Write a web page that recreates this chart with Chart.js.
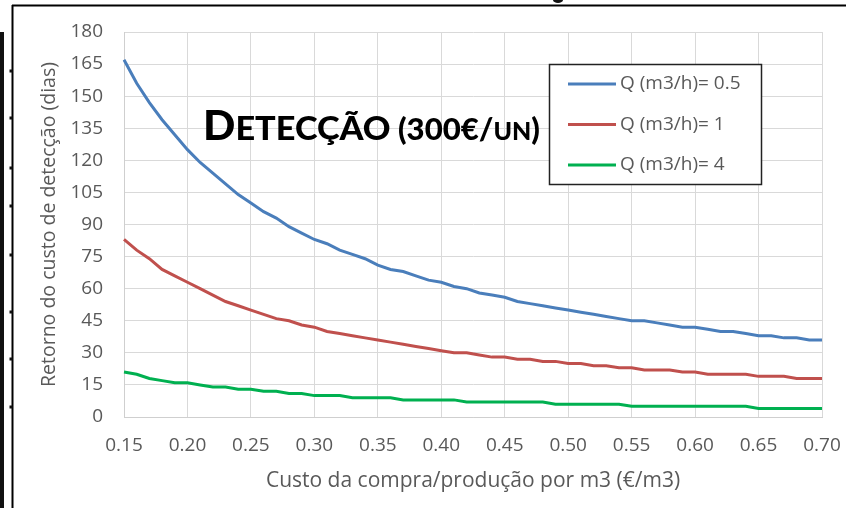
<!DOCTYPE html>
<html>
<head>
<meta charset="utf-8">
<script src="https://cdn.jsdelivr.net/npm/chart.js@4.4.1/dist/chart.umd.min.js"></script>
<style>
  html, body { margin: 0; padding: 0; background: #fff; }
  #wrap { width: 846px; height: 508px; position: relative; }
</style>
</head>
<body>
<div id="wrap"><canvas id="payback" width="846" height="508"></canvas></div>
<script>
// custo por m3 (€/m3)
const costs = [0.15, 0.16, 0.17, 0.18, 0.19, 0.20, 0.21, 0.22, 0.23, 0.24,
  0.25, 0.26, 0.27, 0.28, 0.29, 0.30, 0.31, 0.32, 0.33, 0.34,
  0.35, 0.36, 0.37, 0.38, 0.39, 0.40, 0.41, 0.42, 0.43, 0.44,
  0.45, 0.46, 0.47, 0.48, 0.49, 0.50, 0.51, 0.52, 0.53, 0.54,
  0.55, 0.56, 0.57, 0.58, 0.59, 0.60, 0.61, 0.62, 0.63, 0.64,
  0.65, 0.66, 0.67, 0.68, 0.69, 0.70];

// retorno (dias) para cada caudal
const q05 = [167, 156, 147, 139, 132, 125, 119, 114, 109, 104,
  100, 96, 93, 89, 86, 83, 81, 78, 76, 74,
  71, 69, 68, 66, 64, 63, 61, 60, 58, 57,
  56, 54, 53, 52, 51, 50, 49, 48, 47, 46,
  45, 45, 44, 43, 42, 42, 41, 40, 40, 39,
  38, 38, 37, 37, 36, 36];
const q1 = [83, 78, 74, 69, 66, 63, 60, 57, 54, 52,
  50, 48, 46, 45, 43, 42, 40, 39, 38, 37,
  36, 35, 34, 33, 32, 31, 30, 30, 29, 28,
  28, 27, 27, 26, 26, 25, 25, 24, 24, 23,
  23, 22, 22, 22, 21, 21, 20, 20, 20, 20,
  19, 19, 19, 18, 18, 18];
const q4 = [21, 20, 18, 17, 16, 16, 15, 14, 14, 13,
  13, 12, 12, 11, 11, 10, 10, 10, 9, 9,
  9, 9, 8, 8, 8, 8, 8, 7, 7, 7,
  7, 7, 7, 7, 6, 6, 6, 6, 6, 6,
  5, 5, 5, 5, 5, 5, 5, 5, 5, 5,
  4, 4, 4, 4, 4, 4];

const seriesNames = ["Q (m3/h)= 0.5", "Q (m3/h)= 1", "Q (m3/h)= 4"];
const seriesColors = ["#4A7EBB", "#C0504D", "#00B050"];
const yTicks = [0, 15, 30, 45, 60, 75, 90, 105, 120, 135, 150, 165, 180];

const gray = "#595959";
const gridCol = "#d9d9d9";

// page frame, legend box and title text
const extras = {
  id: "extras",
  beforeDraw(chart) {
    const c = chart.ctx;
    c.save();
    c.fillStyle = "#fff";
    c.fillRect(0, 0, chart.width, chart.height);
    c.restore();
  },
  afterDraw(chart) {
    const c = chart.ctx;
    c.save();
    // frame pieces
    c.fillStyle = "#111";
    c.fillRect(0, 32, 4, 476);
    c.strokeStyle = "#000";
    c.lineWidth = 2;
    c.beginPath();
    c.moveTo(12.5, 5);
    c.lineTo(12.5, 508);
    c.moveTo(12, 5.5);
    c.lineTo(846, 5.5);
    c.stroke();
    [71, 118, 168, 206, 255, 312, 359, 407].forEach(y => {
      c.fillRect(9.5, y - 1.5, 3, 3);
    });
    c.beginPath();
    c.ellipse(558, 0, 5, 3, 0, 0, Math.PI * 2);
    c.fill();

    // legend
    c.fillStyle = "#fff";
    c.fillRect(549, 64, 213, 121);
    c.strokeStyle = "#222";
    c.lineWidth = 1.5;
    c.strokeRect(549.5, 64.5, 212, 120);
    c.font = "19px 'Open Sans'";
    c.textBaseline = "middle";
    c.textAlign = "left";
    chart.data.datasets.forEach((ds, i) => {
      const y = 84 + i * 40.5;
      c.strokeStyle = ds.borderColor;
      c.lineWidth = 3;
      c.beginPath();
      c.moveTo(568, y);
      c.lineTo(616, y);
      c.stroke();
      c.fillStyle = gray;
      c.fillText(ds.label, 620, y);
    });

    // title in small caps
    const parts = [["D", 41], ["ETECÇÃO", 33], [" (300€/", 30], ["UN", 24], [")", 30]];
    let total = 0;
    parts.forEach(p => {
      c.font = "900 " + p[1] + "px Lato";
      total += c.measureText(p[0]).width;
    });
    const sx = 337 / total;
    c.translate(203, 140);
    c.scale(sx, 1);
    c.fillStyle = "#000";
    c.textBaseline = "alphabetic";
    let x = 0;
    parts.forEach(p => {
      c.font = "900 " + p[1] + "px Lato";
      c.fillText(p[0], x, 0);
      x += c.measureText(p[0]).width;
    });
    c.restore();
  }
};

new Chart(document.getElementById("payback"), {
  type: "line",
  data: {
    labels: costs,
    datasets: [q05, q1, q4].map((vals, i) => ({
      label: seriesNames[i],
      data: vals,
      borderColor: seriesColors[i],
      backgroundColor: seriesColors[i],
      borderWidth: 3,
      pointRadius: 0,
      tension: 0,
      fill: false
    }))
  },
  options: {
    responsive: false,
    animation: false,
    layout: { padding: { top: 32, right: 24, left: 0, bottom: 0 } },
    plugins: {
      legend: { display: false },
      tooltip: { enabled: false }
    },
    scales: {
      x: {
        type: "category",
        offset: false,
        grid: { color: gridCol, drawTicks: false },
        border: { color: "#cfcfcf" },
        ticks: {
          autoSkip: false,
          maxRotation: 0,
          padding: 17,
          color: gray,
          font: { family: "'Open Sans'", size: 19 },
          callback: (v, i) => (i % 5 === 0 ? costs[i].toFixed(2) : null)
        },
        title: {
          display: true,
          text: "Custo da compra/produção por m3 (€/m3)",
          color: gray,
          font: { family: "'Open Sans'", size: 21 },
          padding: { bottom: 14 }
        },
        afterFit: s => {
          s.height = 91;
          s.paddingLeft = 0;
          s.paddingRight = 0;
        }
      },
      y: {
        min: 0,
        max: 180,
        afterBuildTicks: s => { s.ticks = yTicks.map(v => ({ value: v })); },
        grid: { color: gridCol, drawTicks: false },
        border: { color: "#cfcfcf" },
        ticks: {
          padding: 21,
          color: gray,
          font: { family: "'Open Sans'", size: 19 }
        },
        title: {
          display: true,
          text: "Retorno do custo de detecção (dias)",
          color: gray,
          font: { family: "'Open Sans'", size: 19.5 },
          padding: { top: 38 }
        },
        afterFit: s => {
          s.width = 124;
          s.paddingTop = 0;
          s.paddingBottom = 0;
        }
      }
    }
  },
  plugins: [extras]
});
</script>
</body>
</html>
